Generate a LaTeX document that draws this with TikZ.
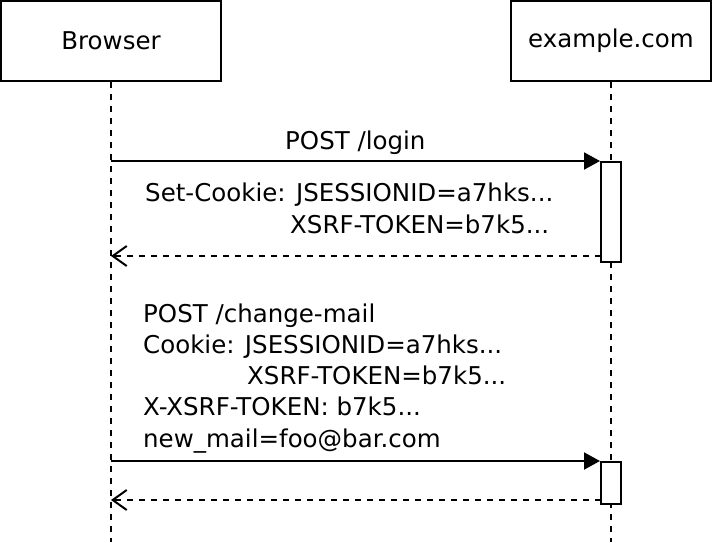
\documentclass[tikz,border=0pt]{standalone}
\usepackage{fontspec}
\setmainfont{DejaVu Sans}
\usetikzlibrary{arrows.meta}

\tikzset{
  actor/.style={draw, line width=2pt, rectangle, inner sep=0pt},
  lifeline/.style={line width=2pt, dash pattern=on 6pt off 6pt},
  activation/.style={draw, line width=2pt, fill=white, rectangle, minimum width=20pt, inner sep=0pt, anchor=north},
  request/.style={line width=2pt, -{Triangle[length=16pt,width=17pt]}},
  reply/.style={line width=2pt, dash pattern=on 6pt off 6pt, -{Straight Barb[length=14pt,width=20pt,line width=2pt]}},
  msg/.style={inner sep=0pt, anchor=base west, align=left}
}

\begin{document}
\begin{tikzpicture}[x=1pt, y=-1pt, font=\fontsize{24.5}{31.25}\selectfont]
    \useasboundingbox (0,0) rectangle (712,542);

            % Two participants
            \node[actor, minimum width=220pt, minimum height=80pt] (browser) at (111,41) {Browser};
            \node[actor, minimum width=200pt, minimum height=80pt] (server) at (611,41) {example.com};

            % Lifelines
            \coordinate (browserend) at (111,542);
            \coordinate (serverend) at (611,542);
            \draw[lifeline] (browser.south) -- (browserend);
            \draw[lifeline] (server.south) -- (serverend);

            % First exchange: login
            \node[activation, minimum height=100pt] (act1) at (611,161) {};
            \coordinate (login) at (111,161);
            \draw[request] (login) -- (act1.north west);
            \node[msg] (loginlabel) at (285,149) {POST /login};
            % base anchor sits on the last line
            \node[msg] (cookies) at (145,233) {Set-Cookie: JSESSIONID=a7hks...\\\hspace*{145pt}XSRF-TOKEN=b7k5...};
            \coordinate (act1back) at (601,256);
            \coordinate (logindone) at (111,256);
            \draw[reply] (act1back) -- (logindone);

            % Second exchange: change mail
            \node[activation, minimum height=42pt] (act2) at (611,461) {};
            \coordinate (change) at (111,461);
            \draw[request] (change) -- (act2.north west);
            \node[msg] (changelabel) at (143,447) {POST /change-mail\\Cookie: JSESSIONID=a7hks...\\\hspace*{104pt}XSRF-TOKEN=b7k5...\\X-XSRF-TOKEN: b7k5...\\new\_mail=foo@bar.com};
            \coordinate (act2back) at (601,500);
            \coordinate (changedone) at (111,500);
            \draw[reply] (act2back) -- (changedone);
        \end{tikzpicture}
\end{document}
